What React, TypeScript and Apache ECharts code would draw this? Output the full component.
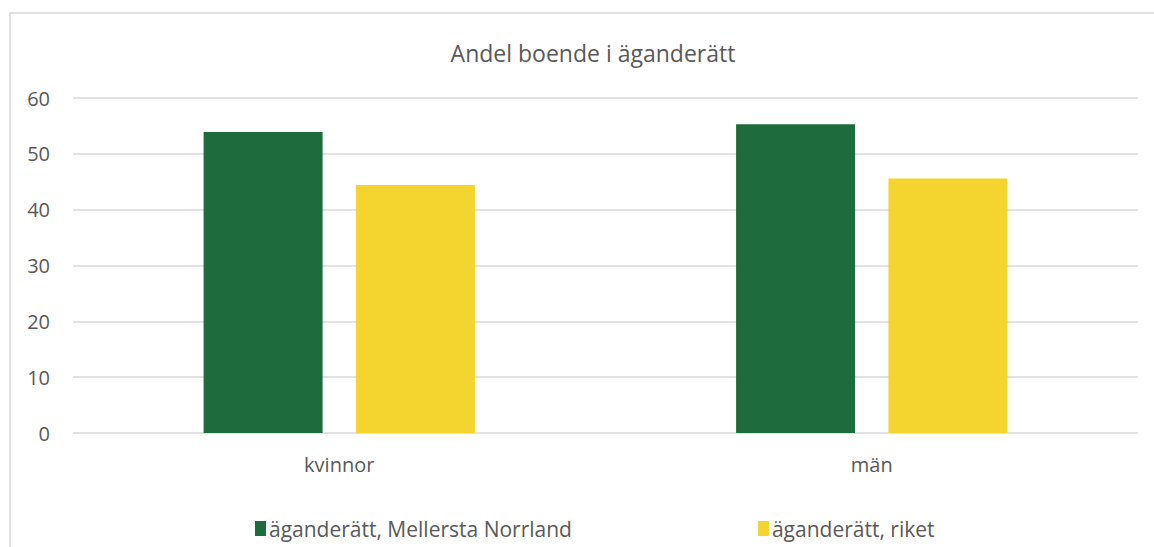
import React, { useEffect, useRef } from "react";
import * as echarts from "echarts";

const title = "Andel boende i äganderätt";
const categories = ["kvinnor", "män"];
const seriesNames = ["äganderätt, Mellersta Norrland", "äganderätt, riket"];
const mellerstaNorrland = [53.9, 55.3];
const riket = [44.4, 45.6];
const colors = ["#1e6b3d", "#f4d52f"];

export default function App() {
  const ref = useRef<HTMLDivElement>(null);
  useEffect(() => {
    document.body.style.margin = "0";
    const chart = echarts.init(ref.current!, undefined, { renderer: "svg" });
    const font = "'Open Sans', 'Noto Sans', sans-serif";
    chart.setOption({
      animation: false,
      textStyle: { fontFamily: font },
      title: {
        text: title,
        left: 588,
        textAlign: "center",
        top: 36,
        textStyle: { fontFamily: font, fontSize: 23, fontWeight: "normal", color: "#595959" },
      },
      legend: {
        bottom: 3,
        left: 250,
        itemGap: 186,
        itemWidth: 11,
        itemHeight: 15,
        icon: "rect",
        textStyle: { fontFamily: font, fontSize: 21, color: "#595959", padding: [0, 0, 0, -2] },
        data: seriesNames,
      },
      graphic: [
        {
          type: "rect",
          shape: { x: 10, y: 13, width: 1200, height: 600 },
          style: { fill: "none", stroke: "#d9d9d9", lineWidth: 1.5 },
          silent: true,
        },
      ],
      grid: { left: 73, right: 16, top: 98, bottom: 114, containLabel: false },
      xAxis: {
        type: "category",
        data: categories,
        axisLine: { show: false },
        axisTick: { show: false },
        axisLabel: { fontFamily: font, fontSize: 20, color: "#595959", margin: 21 },
      },
      yAxis: {
        type: "value",
        min: 0,
        max: 60,
        interval: 10,
        axisLine: { show: false },
        axisTick: { show: false },
        splitLine: { lineStyle: { color: "#d9d9d9", width: 1.5 } },
        axisLabel: { fontFamily: font, fontSize: 20, color: "#595959", margin: 23 },
      },
      series: [
        {
          name: seriesNames[0],
          type: "bar",
          data: mellerstaNorrland,
          itemStyle: { color: colors[0] },
          barWidth: 119,
          barGap: "28%",
        },
        {
          name: seriesNames[1],
          type: "bar",
          data: riket,
          itemStyle: { color: colors[1] },
          barWidth: 119,
          barGap: "28%",
        },
      ],
    });
    return () => chart.dispose();
  }, []);
  return <div ref={ref} style={{ width: 1154, height: 547 }} />;
}
